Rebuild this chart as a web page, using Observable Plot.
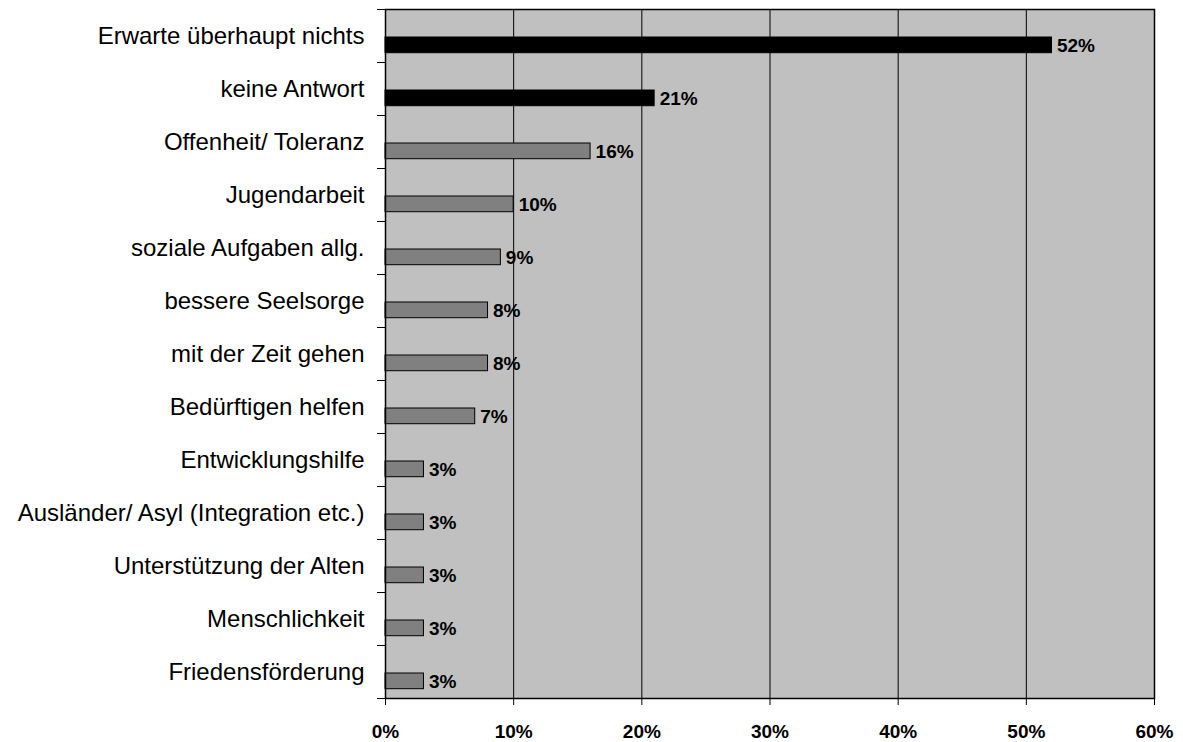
<!DOCTYPE html>
<html>
<head>
<meta charset="utf-8">
<script src="https://cdn.jsdelivr.net/npm/d3@7"></script>
<script src="https://cdn.jsdelivr.net/npm/@observablehq/plot@0.6"></script>
<style>
  html, body { margin: 0; padding: 0; background: #fff; }
  svg { display: block; }
</style>
</head>
<body>
<div id="chart"></div>
<script>
const categories = [
  "Erwarte überhaupt nichts",
  "keine Antwort",
  "Offenheit/ Toleranz",
  "Jugendarbeit",
  "soziale Aufgaben allg.",
  "bessere Seelsorge",
  "mit der Zeit gehen",
  "Bedürftigen helfen",
  "Entwicklungshilfe",
  "Ausländer/ Asyl (Integration etc.)",
  "Unterstützung der Alten",
  "Menschlichkeit",
  "Friedensförderung"
];
const values = [52, 21, 16, 10, 9, 8, 8, 7, 3, 3, 3, 3, 3];
const highlighted = [true, true, false, false, false, false, false, false, false, false, false, false, false];
const xTicks = [0, 10, 20, 30, 40, 50, 60];
const gridTicks = [10, 20, 30, 40, 50];

const data = categories.map((c, i) => ({category: c, value: values[i], dark: highlighted[i]}));

const W = 1183, H = 742;
const mt = 9, mb = 44, ml = 385, mr = 29;
const band = (H - mt - mb) / categories.length;

const chart = Plot.plot({
  width: W,
  height: H,
  marginTop: mt,
  marginBottom: mb,
  marginLeft: ml,
  marginRight: mr,
  style: {fontFamily: "'Liberation Sans', Arial, sans-serif", background: "white"},
  x: {domain: [0, 60]},
  y: {domain: categories, padding: 0},
  marks: [
    Plot.frame({fill: "#C0C0C0", stroke: null}),
    Plot.ruleX(gridTicks, {stroke: "black", strokeWidth: 1}),
    Plot.barX(data, {
      x: "value",
      y: "category",
      fill: d => d.dark ? "black" : "#808080",
      stroke: "black",
      strokeWidth: 1,
      insetTop: 28,
      insetBottom: band - 43.7
    }),
    Plot.text(data, {
      x: "value",
      y: "category",
      text: d => d.value + "%",
      textAnchor: "start",
      dx: 5,
      dy: 9.5,
      fontWeight: "bold",
      fontSize: 19,
      fill: "black"
    }),
    Plot.frame({stroke: "black", strokeWidth: 1.5}),
    // category labels
    Plot.axisY({
      tickSize: 0,
      tickPadding: 21,
      fontSize: 24,
      fill: "black",
      label: null
    }),
    // tick marks at band boundaries
    Plot.axisY({
      tickSize: 8,
      tickFormat: null,
      dy: -band / 2,
      stroke: "black",
      label: null
    }),
    Plot.axisY([categories[categories.length - 1]], {
      tickSize: 8,
      tickFormat: null,
      dy: band / 2,
      stroke: "black",
      label: null
    }),
    Plot.axisX({
      ticks: xTicks,
      tickFormat: d => d + "%",
      tickSize: 7,
      tickPadding: 19,
      fontSize: 19,
      fontWeight: "bold",
      stroke: "black",
      fill: "black",
      label: null
    })
  ]
});

document.getElementById("chart").appendChild(chart);
</script>
</body>
</html>
